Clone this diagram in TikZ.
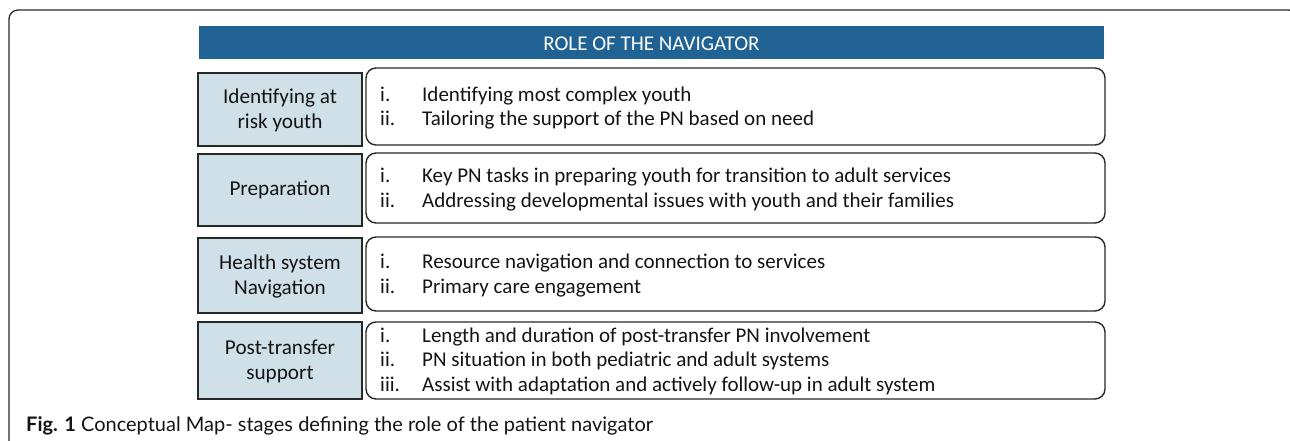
\documentclass[tikz,border=0pt]{standalone}
\usepackage{fontspec}
\setmainfont{Carlito}
\newfontfamily\capfont{Lato}
\definecolor{barblue}{RGB}{31,98,147}
\definecolor{stagefill}{RGB}{208,224,233}
\definecolor{edge}{RGB}{40,40,40}
\definecolor{ink}{RGB}{20,20,20}
\tikzset{
  stagebox/.style={draw=edge, line width=1.6pt, fill=stagefill},
  itembox/.style={draw=edge, line width=1.4pt, rounded corners=10pt},
  stagetext/.style={align=center, text=ink, font=\fontsize{21.2}{25}\selectfont, inner sep=0pt},
  itemtext/.style={anchor=base west, text=ink, font=\fontsize{21}{24}\selectfont, inner sep=0pt},
}
\begin{document}
\begin{tikzpicture}[x=1pt,y=-1pt]
\useasboundingbox (0,0) rectangle (1290,440);
\clip (0,0) rectangle (1290,440);
% outer frame
\draw[edge, line width=1.3pt, rounded corners=9pt] (9,10) rectangle (1298,470);
% header bar
\fill[barblue] (199,26) rectangle (1104,59);
\node[text=white, font=\fontsize{21}{24}\selectfont] (title) at (651.5,43.5) {ROLE OF THE NAVIGATOR};

% stage boxes
\draw[stagebox] (198,73) rectangle (362,146);
\node[stagetext] (s1) at (280,110) {Identifying at\\risk youth};
\draw[stagebox] (198,154) rectangle (362,226);
\node[stagetext] (s2) at (280,190) {Preparation};
\draw[stagebox] (198,238) rectangle (362,313);
\node[stagetext] (s3) at (280,276) {Health system\\Navigation};
\draw[stagebox] (198,322) rectangle (362,399);
\node[stagetext] (s4) at (280,361) {Post-transfer\\support};

% item boxes
\draw[itembox] (366,68) rectangle (1105,145);
\draw[itembox] (366,153) rectangle (1105,223);
\draw[itembox] (366,237) rectangle (1105,311);
\draw[itembox] (366,322) rectangle (1105,399);

% box 1
\node[itemtext] (a1n) at (380,101) {i.};
\node[itemtext] (a1) at (422,101) {Identifying most complex youth};
\node[itemtext] (a2n) at (380,125) {ii.};
\node[itemtext] (a2) at (422,125) {Tailoring the support of the PN based on need};
% box 2
\node[itemtext] (b1n) at (380,182) {i.};
\node[itemtext] (b1) at (422,182) {Key PN tasks in preparing youth for transition to adult services};
\node[itemtext] (b2n) at (380,207) {ii.};
\node[itemtext] (b2) at (422,207) {Addressing developmental issues with youth and their families};
% box 3
\node[itemtext] (c1n) at (380,268) {i.};
\node[itemtext] (c1) at (422,268) {Resource navigation and connection to services};
\node[itemtext] (c2n) at (380,293) {ii.};
\node[itemtext] (c2) at (422,293) {Primary care engagement};
% box 4
\node[itemtext] (d1n) at (380,342) {i.};
\node[itemtext] (d1) at (422,342) {Length and duration of post-transfer PN involvement};
\node[itemtext] (d2n) at (380,366) {ii.};
\node[itemtext] (d2) at (422,366) {PN situation in both pediatric and adult systems};
\node[itemtext] (d3n) at (380,391) {iii.};
\node[itemtext] (d3) at (422,391) {Assist with adaptation and actively follow-up in adult system};

% caption
\node[anchor=base west, inner sep=0pt, text=ink, font=\capfont\fontsize{20}{22}\selectfont] (cap) at (26,431)
  {\textbf{Fig. 1} Conceptual Map- stages defining the role of the patient navigator};
\end{tikzpicture}
\end{document}
